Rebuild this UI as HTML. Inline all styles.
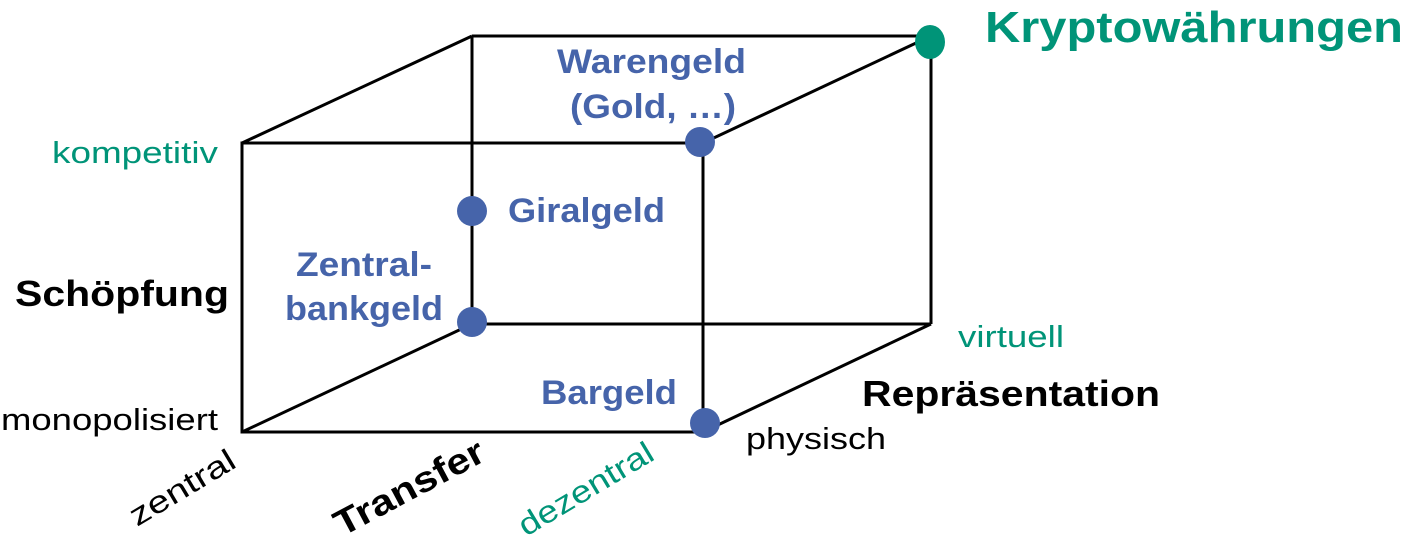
<!DOCTYPE html>
<html><head><meta charset="utf-8"><style>
html,body{margin:0;padding:0;background:#fff;width:1406px;height:539px;overflow:hidden}
svg{display:block}
text{font-family:"Liberation Sans",Arial,sans-serif}
.b{fill:#4664aa;font-weight:bold;font-size:34px}
.g{fill:#009478}
</style></head><body>
<svg width="1406" height="539" viewBox="0 0 1406 539">
<g stroke="#000" stroke-width="3" fill="none">
<rect x="242" y="143" width="461" height="289"/>
<line x1="472" y1="36" x2="931" y2="36"/>
<line x1="472" y1="36" x2="472" y2="324"/>
<line x1="472" y1="324" x2="931" y2="324"/>
<line x1="931" y1="36" x2="931" y2="324"/>
<line x1="242" y1="143" x2="472" y2="36"/>
<line x1="703" y1="143" x2="931" y2="36"/>
<line x1="242" y1="432" x2="472" y2="324"/>
<line x1="703" y1="432" x2="931" y2="324"/>
</g>
<g fill="#4664aa">
<circle cx="700" cy="142" r="15"/>
<circle cx="472" cy="211" r="15"/>
<circle cx="472" cy="322" r="15"/>
<circle cx="705" cy="423" r="15"/>
</g>
<ellipse cx="930" cy="42" rx="15" ry="17" fill="#009478"/>
<g lengthAdjust="spacingAndGlyphs">
<text x="985" y="42" class="g" font-size="44" font-weight="bold" textLength="418" lengthAdjust="spacingAndGlyphs">Kryptowährungen</text>
<text x="557" y="73" class="b" textLength="189" lengthAdjust="spacingAndGlyphs">Warengeld</text>
<text x="570" y="118" class="b" textLength="166" lengthAdjust="spacingAndGlyphs">(Gold, …)</text>
<text x="508" y="222" class="b" textLength="157" lengthAdjust="spacingAndGlyphs">Giralgeld</text>
<text x="296" y="276" class="b" textLength="136" lengthAdjust="spacingAndGlyphs">Zentral-</text>
<text x="285" y="320" class="b" textLength="158" lengthAdjust="spacingAndGlyphs">bankgeld</text>
<text x="541" y="404" class="b" textLength="136" lengthAdjust="spacingAndGlyphs">Bargeld</text>
<text x="52" y="163" class="g" font-size="31" textLength="166" lengthAdjust="spacingAndGlyphs">kompetitiv</text>
<text x="15" y="306" font-size="36" font-weight="bold" textLength="214" lengthAdjust="spacingAndGlyphs">Schöpfung</text>
<text x="1" y="430" font-size="31" textLength="217" lengthAdjust="spacingAndGlyphs">monopolisiert</text>
<text x="958" y="347" class="g" font-size="31" textLength="106" lengthAdjust="spacingAndGlyphs">virtuell</text>
<text x="862" y="406" font-size="36" font-weight="bold" textLength="298" lengthAdjust="spacingAndGlyphs">Repräsentation</text>
<text x="746" y="449" font-size="31" textLength="140" lengthAdjust="spacingAndGlyphs">physisch</text>
<text transform="translate(137,527) rotate(-31)" font-size="31" textLength="118" lengthAdjust="spacingAndGlyphs">zentral</text>
<text transform="translate(342,537) rotate(-28)" font-size="36" font-weight="bold" textLength="165" lengthAdjust="spacingAndGlyphs">Transfer</text>
<text transform="translate(526,537) rotate(-31)" class="g" font-size="31" textLength="152" lengthAdjust="spacingAndGlyphs">dezentral</text>
</g>
</svg>
</body></html>
